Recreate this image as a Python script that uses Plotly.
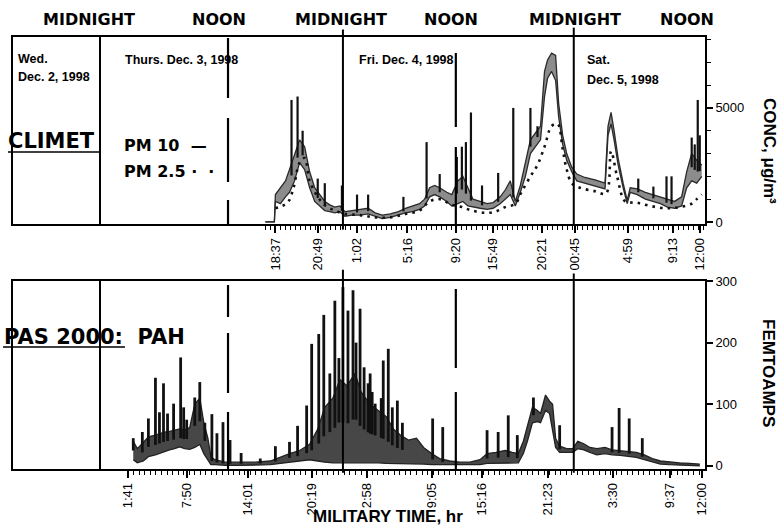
import numpy as np
import plotly.graph_objects as go

# ---------------- data (x in hours from Thu 00:00 as laid out on the chart) ----------------
midnight_lines = [0.0, 24.1, 47.0]
noon_lines = [12.7, 35.3]

header_labels = ["MIDNIGHT", "NOON", "MIDNIGHT", "NOON", "MIDNIGHT", "NOON"]

top_tick_pos = [17.4, 21.6, 25.5, 30.5, 35.3, 39.0, 43.8, 47.1, 52.4, 56.8, 59.5]
top_tick_labels = ["18:37", "20:49", "1:02", "5:16", "9:20", "15:49", "20:21", "00:45", "4:59", "9:13", "12:00"]
bot_tick_pos = [2.8, 8.6, 14.7, 21.0, 26.5, 32.9, 37.9, 44.4, 50.9, 56.5, 59.7]
bot_tick_labels = ["1:41", "7:50", "14:01", "20:19", "2:58", "9:05", "15:16", "21:23", "3:30", "9:37", "12:00"]

# CLIMET PM10 (ug/m3): lower / upper edge of the noisy trace
pm10_t = [16.4, 17.3, 17.4, 17.9, 18.4, 18.8, 19.3, 19.8, 20.3, 20.8, 21.3, 21.8, 22.3, 22.8, 23.3, 23.8,
          24.3, 25.0, 25.8, 26.6, 27.3, 28.0, 28.8, 29.6, 30.3, 31.0, 31.7, 32.2, 32.7, 33.2, 33.7, 34.4,
          34.9, 35.5, 36.0, 36.5, 37.0, 37.7, 38.4, 39.0, 39.7, 40.2, 40.7, 41.2, 41.7, 42.2, 42.7, 43.2,
          43.7, 44.1, 44.4, 44.8, 45.2, 45.5, 45.9, 46.3, 46.8, 47.3, 48.1, 49.1, 50.1, 50.4, 50.7, 51.0,
          51.4, 51.9, 52.3, 52.6, 53.3, 54.1, 54.8, 55.6, 56.3, 57.0, 57.7, 58.2, 58.7, 59.2, 59.7]
pm10_lo = [0, 0, 900, 800, 1100, 1300, 1800, 2600, 2300, 1500, 900, 700, 500, 450, 400, 450,
           250, 300, 300, 350, 250, 150, 200, 300, 400, 450, 550, 700, 1100, 1200, 1100, 900,
           700, 800, 900, 700, 650, 600, 550, 600, 800, 1000, 1200, 700, 1300, 2000, 3000, 3300,
           3600, 5500, 6300, 6600, 6200, 4600, 3400, 2700, 2200, 1800, 1700, 1600, 1450, 3800, 4300, 3600,
           2500, 1500, 800, 1300, 1200, 1000, 900, 800, 650, 600, 700, 1500, 1800, 1700, 2000]
pm10_hi = [0, 0, 1200, 1500, 1800, 2300, 3000, 3600, 3300, 2200, 1500, 1200, 900, 750, 650, 700,
           450, 500, 550, 600, 400, 300, 350, 450, 600, 700, 800, 1000, 1500, 1600, 1500, 1300,
           1200, 1800, 2000, 1500, 1000, 900, 800, 850, 1100, 1400, 1800, 900, 1600, 2600, 3600, 3900,
           4200, 6600, 7100, 7400, 7300, 5200, 3800, 3000, 2400, 2100, 1950, 1850, 1700, 4200, 4800, 4000,
           2800, 1700, 950, 1500, 1450, 1300, 1200, 1100, 1000, 900, 1100, 2200, 3000, 2700, 2500]
pm10_spike_t = [19.0, 19.6, 20.1, 21.6, 22.3, 24.0, 25.5, 26.6, 30.1, 32.4, 33.7, 35.4, 35.9, 36.3,
                36.8, 37.9, 39.5, 41.0, 42.7, 43.4, 53.4, 54.9, 56.2, 56.7, 58.7, 59.0, 59.3, 59.5]
pm10_spike_v = [5350, 5500, 4000, 1900, 1700, 1600, 1200, 1200, 1100, 3500, 2100, 2850, 3300, 3500,
                4800, 1600, 2150, 5000, 5000, 4200, 1900, 1550, 2000, 2000, 3700, 3400, 5350, 3800]

# CLIMET PM2.5 (ug/m3)
pm25_t = [17.4, 18.1, 18.7, 19.2, 19.8, 20.3, 20.8, 21.6, 22.4, 23.3, 24.3, 25.8, 27.3, 28.8, 30.3,
          31.7, 32.7, 33.7, 34.9, 35.9, 36.9, 38.2, 39.2, 40.2, 41.2, 41.8, 42.7, 43.4, 44.1, 44.8,
          45.4, 45.9, 46.3, 46.8, 47.6, 49.1, 50.2, 50.7, 51.3, 52.1, 53.2, 54.6, 56.2, 57.5, 58.7,
          59.2, 59.7]
pm25_v = [600, 700, 900, 1500, 2600, 2800, 1800, 1100, 700, 500, 350, 300, 200, 200, 350,
          500, 900, 1000, 750, 650, 500, 400, 450, 650, 800, 1300, 2000, 2500, 3300, 4200,
          4300, 3200, 2300, 1700, 1500, 1350, 1250, 3100, 2000, 900, 850, 700, 600, 650, 800,
          1000, 1200]

# PAS 2000 PAH (femtoamps): lower / upper edge of the dense trace
pah_t = [3.3, 3.7, 4.3, 4.8, 5.5, 6.0, 6.4, 6.9, 7.4, 7.9, 8.4, 8.9, 9.4, 9.9, 10.3, 10.7, 11.0, 11.4,
         12.4, 13.9, 15.4, 16.9, 17.9, 18.8, 19.8, 20.8, 21.6, 22.3, 23.1, 23.8, 24.5, 25.3, 25.9, 26.8,
         27.6, 28.4, 29.1, 29.8, 30.6, 31.4, 32.1, 32.9, 33.7, 34.7, 35.7, 36.7, 37.7, 38.4, 39.3, 40.2,
         40.9, 41.5, 42.0, 42.4, 42.9, 43.4, 43.7, 44.2, 44.6, 44.9, 45.2, 45.6, 46.3, 46.9, 47.4, 48.0,
         48.6, 49.3, 50.1, 50.8, 51.6, 52.4, 53.2, 54.0, 54.8, 55.6, 56.5, 57.5, 58.5, 59.5]
pah_lo = [10, 5, 8, 15, 18, 21, 24, 26, 28, 31, 28, 27, 30, 35, 20, 10, 2, 2,
          1, 1, 1, 2, 4, 6, 8, 10, 8, 6, 5, 5, 6, 5, 5, 5,
          5, 4, 4, 4, 4, 4, 3, 2, 2, 1, 1, 1, 2, 4, 4, 5,
          4, 5, 20, 40, 70, 72, 70, 90, 85, 60, 30, 22, 22, 22, 28, 26,
          22, 18, 20, 18, 17, 16, 14, 10, 6, 3, 2, 1, 1, 0]
pah_hi = [40, 28, 38, 47, 50, 53, 55, 56, 58, 60, 58, 62, 100, 110, 70, 45, 15, 10,
          6, 6, 6, 8, 15, 20, 25, 35, 60, 95, 110, 140, 130, 150, 120, 100,
          90, 80, 60, 50, 42, 45, 30, 20, 12, 8, 6, 6, 10, 20, 22, 25,
          22, 20, 40, 65, 95, 90, 85, 115, 105, 100, 45, 32, 28, 28, 40, 36,
          30, 28, 30, 26, 25, 24, 22, 18, 12, 8, 6, 5, 4, 3]
pah_spike_t = [3.3, 4.2, 4.8, 5.5, 5.9, 6.3, 6.7, 7.3, 8.0, 8.3, 8.6, 9.4, 9.9, 10.4, 11.1, 11.6,
               12.2, 12.9, 14.0, 15.9, 17.4, 18.8, 19.6, 20.5, 21.0, 21.7, 22.2, 22.8, 23.3, 23.7,
               24.1, 24.6, 25.1, 25.4, 25.8, 26.2, 26.6, 26.8, 27.0, 27.3, 27.9, 28.1, 28.6, 29.0,
               29.5, 30.0, 33.0, 34.0, 38.4, 39.5, 40.5, 41.4, 43.0, 45.6, 50.8, 51.5, 52.5, 53.8]
pah_spike_v = [45, 55, 77, 143, 87, 134, 85, 101, 176, 95, 75, 111, 136, 70, 84, 53,
               71, 42, 21, 12, 32, 39, 65, 98, 198, 214, 245, 150, 268, 175,
               290, 252, 285, 200, 255, 160, 134, 150, 120, 101, 110, 171, 190, 95,
               106, 70, 77, 63, 58, 55, 82, 50, 111, 66, 63, 94, 77, 45]

# ---------------- layout helpers (pixel geometry of the page) ----------------
W, H = 784, 527
L, R = 13, 705            # plot left/right edges (px)
T1, B1 = 37, 224          # top panel
T2, B2 = 281, 469         # bottom panel
PH = B2 - T1


def pxx(p):
    return (p - L) / (R - L)


def pxy(p):
    return (B2 - p) / PH


def dom_top(p):
    return (B1 - p) / (B1 - T1)


def dom_bot(p):
    return (B2 - p) / (B2 - T2)


def spikes(t, v, base_t, base_v):
    xs, ys = [], []
    for ti, vi in zip(t, v):
        b = float(np.interp(ti, base_t, base_v))
        xs += [ti, ti, None]
        ys += [b, vi, None]
    return xs, ys


fig = go.Figure()

# ---- top panel ----
pm10_mid = [(a + b) / 2 for a, b in zip(pm10_lo, pm10_hi)]
fig.add_trace(go.Scatter(x=pm10_t, y=pm10_lo, mode="lines", line=dict(color="#2a2a2a", width=1.3),
                         xaxis="x", yaxis="y", showlegend=False, hoverinfo="skip"))
fig.add_trace(go.Scatter(x=pm10_t, y=pm10_hi, mode="lines", line=dict(color="#2a2a2a", width=1.3),
                         fill="tonexty", fillcolor="#8c8c8c",
                         xaxis="x", yaxis="y", showlegend=False, hoverinfo="skip"))
sx, sy = spikes(pm10_spike_t, pm10_spike_v, pm10_t, pm10_mid)
fig.add_trace(go.Scatter(x=sx, y=sy, mode="lines", line=dict(color="#111", width=2.2),
                         xaxis="x", yaxis="y", showlegend=False, hoverinfo="skip"))
fig.add_trace(go.Scatter(x=pm25_t, y=pm25_v, mode="lines", line=dict(color="#111", width=2.6, dash="2.6px,5px"),
                         line_shape="spline",
                         xaxis="x", yaxis="y", showlegend=False, hoverinfo="skip"))

# ---- bottom panel ----
pah_mid = [(a + b) / 2 for a, b in zip(pah_lo, pah_hi)]
fig.add_trace(go.Scatter(x=pah_t, y=pah_lo, mode="lines", line=dict(color="#222", width=1.3),
                         xaxis="x2", yaxis="y2", showlegend=False, hoverinfo="skip"))
fig.add_trace(go.Scatter(x=pah_t, y=pah_hi, mode="lines", line=dict(color="#222", width=1.3),
                         fill="tonexty", fillcolor="#474747",
                         xaxis="x2", yaxis="y2", showlegend=False, hoverinfo="skip"))
sx, sy = spikes(pah_spike_t, pah_spike_v, pah_t, pah_mid)
fig.add_trace(go.Scatter(x=sx, y=sy, mode="lines", line=dict(color="#111", width=2.8),
                         xaxis="x2", yaxis="y2", showlegend=False, hoverinfo="skip"))

tickfont = dict(family="Liberation Sans Narrow, Arial Narrow, Liberation Sans, Arial", size=13, color="black")
xr = [(L - 100) / 10.08, (R - 100) / 10.08]

common_x = dict(range=xr, showgrid=False, zeroline=False, showline=True, mirror=True, automargin=False,
                linecolor="black", linewidth=1.6, ticks="outside", ticklen=7, tickwidth=1.5,
                tickcolor="black", tickangle=-90, tickfont=tickfont)
fig.update_layout(
    width=W, height=H, paper_bgcolor="white", plot_bgcolor="white",
    margin=dict(l=L, r=W - R, t=T1, b=H - B2),
    xaxis=dict(common_x, anchor="y", domain=[0, 1], tickvals=top_tick_pos, ticktext=top_tick_labels,
               minor=dict(tickvals=list(np.arange(16.4, 60.0, 0.5)), ticklen=4, tickcolor="black",
                          tickwidth=1.2, ticks="outside")),
    yaxis=dict(domain=[pxy(B1), 1], anchor="x", side="right", range=[-90, 8110], automargin=False,
               tickvals=[0, 5000], ticktext=["0", "5000"], showgrid=False, zeroline=False,
               showline=True, mirror=True, linecolor="black", linewidth=1.6, ticks="outside",
               ticklen=6, tickwidth=1.5, tickcolor="black",
               tickfont=dict(family="Liberation Sans, Arial", size=13, color="black"),
               minor=dict(tickvals=[1000, 2000, 3000, 4000, 6000, 7000, 8000], ticklen=4,
                          ticks="outside", tickcolor="black", tickwidth=1.2)),
    xaxis2=dict(common_x, anchor="y2", domain=[0, 1], tickvals=bot_tick_pos, ticktext=bot_tick_labels,
                minor=dict(tickvals=list(np.arange(2.8, 60.0, 0.55)), ticklen=4, tickcolor="black",
                           tickwidth=1.2, ticks="outside")),
    yaxis2=dict(domain=[0, pxy(T2)], anchor="x2", side="right", range=[-5, 300], automargin=False,
                tickvals=[0, 100, 200, 300], showgrid=False, zeroline=False,
                showline=True, mirror=True, linecolor="black", linewidth=1.6, ticks="outside",
                ticklen=6, tickwidth=1.5, tickcolor="black",
                tickfont=dict(family="Liberation Sans, Arial", size=13, color="black")),
)

shapes = []
# midnight boundary lines (solid)
for xv, y0, y1 in zip(midnight_lines, [0, -0.03, 0], [1, 1.04, 1.05]):
    shapes.append(dict(type="line", xref="x", yref="y domain", x0=xv, x1=xv, y0=y0, y1=y1,
                       line=dict(color="black", width=2)))
for xv, y0, y1 in zip(midnight_lines, [0, -0.02, -0.02], [1, 1.06, 1.04]):
    shapes.append(dict(type="line", xref="x2", yref="y2 domain", x0=xv, x1=xv, y0=y0, y1=y1,
                       line=dict(color="black", width=2)))
# noon boundary lines (broken), drawn as pieces
noon_pieces_top = [[(38, 98), (118, 182), (200, 224)], [(53, 127), (147, 224)]]
noon_pieces_bot = [[(285, 317), (333, 393), (412, 469)], [(289, 368), (392, 469)]]
for xv, pieces in zip(noon_lines, noon_pieces_top):
    for a, b in pieces:
        shapes.append(dict(type="line", xref="x", yref="y domain", x0=xv, x1=xv, y0=dom_top(b), y1=dom_top(a),
                           line=dict(color="black", width=2.2)))
for xv, pieces in zip(noon_lines, noon_pieces_bot):
    for a, b in pieces:
        shapes.append(dict(type="line", xref="x2", yref="y2 domain", x0=xv, x1=xv, y0=dom_bot(b), y1=dom_bot(a),
                           line=dict(color="black", width=2.2)))
# CLIMET sub-box line and PAS underline
shapes.append(dict(type="line", xref="paper", yref="paper", x0=pxx(8), x1=pxx(100), y0=pxy(152), y1=pxy(152),
                   line=dict(color="black", width=1.6)))
shapes.append(dict(type="line", xref="paper", yref="paper", x0=pxx(3), x1=pxx(125), y0=pxy(347), y1=pxy(347),
                   line=dict(color="black", width=1.6)))
fig.update_layout(shapes=shapes)

heavy = "DejaVu Sans, Liberation Sans, Arial"
ann = []
for txt, cx in zip(header_labels, [89, 219, 341, 451, 575, 687]):
    ann.append(dict(text="<b>" + txt + "</b>", x=pxx(cx), y=pxy(20), xref="paper", yref="paper",
                    showarrow=False, xanchor="center", yanchor="middle",
                    font=dict(family=heavy, size=16, color="black")))

small = dict(family="Liberation Sans, Arial", size=12.5, color="black")
for txt, lx, ly in [("Wed.", 16, 59), ("Dec. 2, 1998", 16, 77), ("Thurs. Dec. 3, 1998", 123, 60),
                    ("Fri. Dec. 4, 1998", 357, 60), ("Sat.", 585, 60), ("Dec. 5, 1998", 585, 80)]:
    ann.append(dict(text="<b>" + txt + "</b>", x=pxx(lx), y=pxy(ly), xref="paper", yref="paper",
                    showarrow=False, xanchor="left", yanchor="middle", font=small))

ann.append(dict(text="<b>CLIMET</b>", x=pxx(6), y=pxy(141), xref="paper", yref="paper",
                showarrow=False, xanchor="left", yanchor="middle", font=dict(family=heavy, size=21, color="black")))
ann.append(dict(text="<b>PM 10  \u2014</b>", x=pxx(122), y=pxy(145), xref="paper", yref="paper",
                showarrow=False, xanchor="left", yanchor="middle",
                font=dict(family=heavy, size=16, color="black")))
ann.append(dict(text="<b>PM 2.5 \u00b7  \u00b7</b>", x=pxx(122), y=pxy(171), xref="paper", yref="paper",
                showarrow=False, xanchor="left", yanchor="middle",
                font=dict(family=heavy, size=16, color="black")))
ann.append(dict(text="<b>PAS 2000:  PAH</b>", x=pxx(2), y=pxy(337),
                xref="paper", yref="paper", showarrow=False, xanchor="left", yanchor="middle",
                font=dict(family=heavy, size=21, color="black")))
ann.append(dict(text="<b>CONC, \u03bcg/m\u00b3</b>", x=pxx(769), y=pxy(151), xref="paper", yref="paper",
                showarrow=False, xanchor="center", yanchor="middle", textangle=90,
                font=dict(family="Liberation Sans, Arial", size=17, color="black")))
ann.append(dict(text="<b>FEMTOAMPS</b>", x=pxx(769), y=pxy(373), xref="paper", yref="paper",
                showarrow=False, xanchor="center", yanchor="middle", textangle=90,
                font=dict(family="Liberation Sans, Arial", size=17, color="black")))
ann.append(dict(text="<b>MILITARY TIME, hr</b>", x=pxx(388), y=pxy(516), xref="paper", yref="paper",
                showarrow=False, xanchor="center", yanchor="middle",
                font=dict(family="Liberation Sans, Arial", size=17, color="black")))
fig.update_layout(annotations=ann)

fig.write_html("out.html", config={"displayModeBar": False},
               post_script="document.body.style.margin='0px';document.body.style.overflow='hidden';")
